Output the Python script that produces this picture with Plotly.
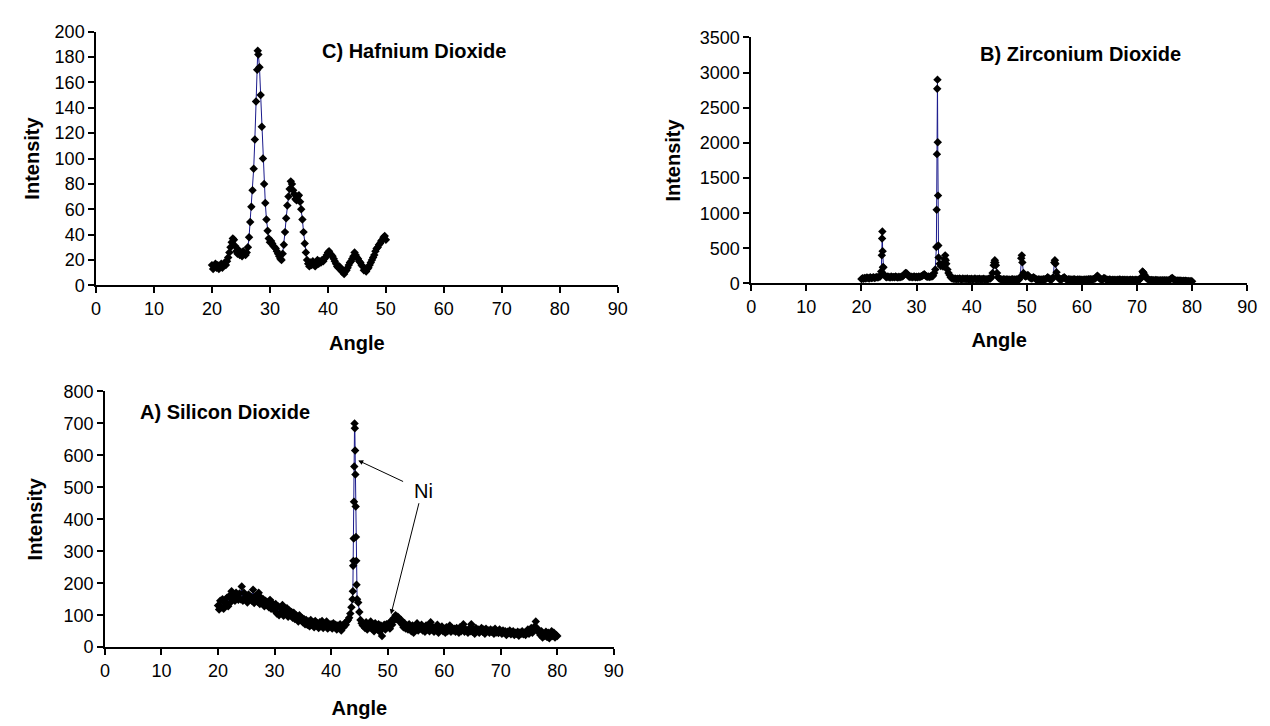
import numpy as np
import plotly.graph_objects as go

# ---------------- data ----------------
# C) Hafnium Dioxide: angle 20.0 .. 50.0, step 0.2
hf_start, hf_step = 20.0, 0.2
hf_intensity = [
    16, 13, 15, 17, 14, 16, 13, 15, 17, 14,
    16, 18, 16, 19, 22, 26, 30, 34, 37, 36,
    31, 27, 25, 28, 24, 26, 23, 27, 25, 24,
    26, 30, 38, 50, 62, 75, 92, 115, 145, 170,
    182, 172, 150, 125, 100, 80, 65, 52, 43, 37,
    34, 35, 33, 31, 30, 29, 27, 25, 23, 21,
    20, 25, 32, 42, 53, 63, 70, 76, 82, 80,
    75, 72, 68, 67, 70, 71, 66, 60, 52, 42,
    33, 26, 20, 17, 15, 18, 16, 19, 17, 15,
    18, 20, 17, 19, 18, 20, 19, 21, 22, 24,
    26, 27, 25, 24, 23, 21, 19, 17, 15, 14,
    15, 13, 11, 12, 9, 11, 12, 14, 16, 18,
    19, 21, 23, 26, 24, 22, 21, 19, 18, 16,
    15, 12, 13, 11, 13, 14, 16, 18, 20, 22,
    24, 27, 29, 30, 32, 33, 35, 36, 38, 39,
    36,
]
hf_extra_angle = [27.9]
hf_extra_intensity = [185]

# B) Zirconium Dioxide: angle 20.0 .. 80.0, step 0.2
zr_start, zr_step = 20.0, 0.2
zr_intensity = [
    62, 75, 68, 80, 72, 85, 78, 70, 88, 76,
    82, 90, 78, 86, 92, 84, 95, 100, 170, 740,
    230, 120, 95, 88, 100, 92, 86, 98, 90, 94,
    88, 100, 92, 85, 97, 90, 95, 100, 110, 130,
    150, 145, 120, 100, 92, 98, 88, 95, 100, 90,
    96, 88, 100, 92, 98, 105, 120, 130, 115, 100,
    95, 100, 92, 104, 98, 110, 150, 200, 520, 2900,
    370, 280, 250, 270, 240, 300, 400, 280, 200, 150,
    120, 90, 75, 70, 65, 72, 60, 68, 62, 70,
    64, 58, 70, 62, 66, 60, 72, 58, 64, 60,
    66, 58, 62, 70, 56, 64, 60, 68, 58, 62,
    60, 66, 56, 62, 58, 64, 70, 72, 90, 150,
    260, 330, 260, 150, 90, 70, 62, 58, 55, 60,
    56, 52, 60, 54, 58, 50, 56, 62, 54, 58,
    55, 60, 52, 58, 90, 360, 300, 150, 110, 100,
    110, 120, 100, 80, 70, 75, 90, 80, 65, 58,
    55, 60, 52, 58, 54, 60, 56, 62, 70, 90,
    75, 60, 55, 62, 90, 300, 280, 160, 100, 70,
    60, 56, 65, 80, 90, 70, 58, 54, 60, 56,
    58, 52, 56, 60, 54, 50, 56, 52, 58, 54,
    55, 50, 56, 52, 58, 54, 60, 56, 62, 58,
    60, 64, 70, 90, 110, 95, 70, 62, 58, 55,
    80, 70, 58, 54, 50, 56, 52, 48, 54, 50,
    52, 48, 54, 50, 56, 52, 48, 54, 50, 52,
    48, 52, 46, 50, 54, 48, 52, 46, 50, 54,
    50, 48, 56, 62, 90, 170, 150, 120, 90, 70,
    60, 52, 48, 50, 46, 48, 44, 50, 46, 48,
    44, 48, 42, 46, 44, 48, 42, 46, 44, 48,
    55, 70, 80, 60, 50, 44, 40, 44, 38, 42,
    40, 36, 40, 34, 38, 36, 32, 36, 30, 34,
    30,
]
zr_extra_angle = [23.7, 23.75, 23.85, 23.9, 33.65, 33.7, 33.75, 33.85, 33.9, 33.95,
                  35.1, 35.3, 44.1, 44.3, 49.1, 55.1, 71.1]
zr_extra_intensity = [400, 640, 460, 230, 1050, 1840, 2770, 2010, 1250, 540,
                      350, 330, 300, 300, 400, 330, 160]

# A) Silicon Dioxide: angle 20.0 .. 80.0, step 0.2
si_start, si_step = 20.0, 0.2
si_intensity = [
    130, 118, 145, 125, 150, 120, 140, 135, 155, 128,
    160, 140, 175, 150, 165, 145, 170, 155, 148, 168,
    150, 190, 145, 170, 155, 160, 140, 165, 150, 158,
    145, 180, 138, 160, 150, 142, 170, 135, 155, 140,
    150, 128, 145, 132, 140, 125, 148, 120, 138, 130,
    115, 135, 105, 128, 100, 125, 110, 132, 98, 120,
    105, 122, 95, 115, 100, 110, 92, 108, 88, 100,
    95, 80, 100, 85, 92, 78, 88, 72, 85, 70,
    80, 65, 85, 70, 78, 62, 82, 68, 75, 60,
    78, 65, 82, 60, 72, 68, 80, 58, 70, 65,
    72, 58, 75, 62, 70, 55, 68, 60, 72, 52,
    68, 62, 75, 70, 80, 85, 92, 105, 125, 150,
    340, 685, 345, 150, 140, 110, 85, 75, 68, 72,
    60, 78, 55, 72, 62, 80, 58, 70, 50, 75,
    65, 55, 72, 48, 68, 35, 62, 70, 55, 72,
    62, 75, 58, 80, 70, 90, 85, 100, 88, 95,
    90, 78, 85, 70, 62, 75, 58, 68, 55, 72,
    60, 50, 68, 45, 62, 55, 75, 52, 65, 58,
    70, 52, 62, 48, 68, 55, 60, 50, 78, 55,
    62, 48, 58, 52, 70, 45, 60, 55, 65, 50,
    58, 45, 62, 50, 55, 68, 48, 60, 52, 58,
    48, 60, 52, 45, 62, 50, 58, 72, 48, 55,
    52, 45, 58, 50, 72, 48, 55, 42, 60, 50,
    55, 45, 52, 60, 48, 55, 42, 58, 50, 52,
    45, 55, 48, 52, 42, 58, 46, 50, 44, 55,
    48, 42, 52, 45, 50, 38, 48, 44, 52, 40,
    46, 50, 38, 45, 42, 48, 36, 46, 42, 50,
    40, 45, 38, 48, 55, 42, 50, 60, 45, 55,
    65, 80, 60, 52, 45, 38, 50, 30, 42, 35,
    48, 32, 45, 28, 40, 50, 35, 45, 30, 38,
    35,
]
si_extra_angle = [43.85, 43.9, 43.95, 44.05, 44.1, 44.15, 44.25, 44.3, 44.35, 44.45, 44.5]
si_extra_intensity = [175, 255, 270, 455, 565, 700, 615, 540, 440, 270, 195]

x_ticks = [0, 10, 20, 30, 40, 50, 60, 70, 80, 90]


def series(start, step, vals, ex_x, ex_y):
    x = np.round(start + step * np.arange(len(vals)), 3)
    xs = np.concatenate([x, np.array(ex_x, float)])
    ys = np.concatenate([np.array(vals, float), np.array(ex_y, float)])
    order = np.argsort(xs, kind="stable")
    return xs[order], ys[order]


FONT = "Liberation Sans, Arial, sans-serif"
LINE = dict(color="#1a1a8c", width=1)
MARK = dict(symbol="diamond", size=6.5, color="black", line=dict(width=0))

fig = go.Figure()
for (s, st, v, ex, ey), xa, ya in [
    ((hf_start, hf_step, hf_intensity, hf_extra_angle, hf_extra_intensity), "x", "y"),
    ((zr_start, zr_step, zr_intensity, zr_extra_angle, zr_extra_intensity), "x2", "y2"),
    ((si_start, si_step, si_intensity, si_extra_angle, si_extra_intensity), "x3", "y3"),
]:
    xs, ys = series(s, st, v, ex, ey)
    fig.add_trace(go.Scatter(x=xs, y=ys, mode="lines+markers", line=LINE,
                             marker=MARK, xaxis=xa, yaxis=ya, showlegend=False))


def axis_style(**kw):
    d = dict(showline=True, linecolor="black", linewidth=1.5, ticks="outside",
             ticklen=6, tickwidth=1.5, tickcolor="black", showgrid=False,
             zeroline=False, tickfont=dict(family=FONT, size=18, color="black"),
             title_font=dict(family=FONT, size=20, color="black"))
    d.update(kw)
    return d


W, H = 1270, 726


def dom_x(a, b):
    return [a / W, b / W]


def dom_y(top, bottom):
    return [1 - bottom / H, 1 - top / H]


fig.update_layout(
    width=W, height=H, margin=dict(l=0, r=0, t=0, b=0),
    paper_bgcolor="white", plot_bgcolor="white",
    font=dict(family=FONT, color="black"),
    xaxis=axis_style(domain=dom_x(84, 612), range=[0, 90], tickvals=x_ticks,
                     anchor="y", title=dict(text="<b>Angle</b>", standoff=18)),
    yaxis=axis_style(domain=dom_y(14, 275), range=[0, 200], dtick=20,
                     anchor="x", title=dict(text="<b>Intensity</b>", standoff=10)),
    xaxis2=axis_style(domain=dom_x(747, 1249), range=[0, 90], tickvals=x_ticks,
                      anchor="y2", title=dict(text="<b>Angle</b>", standoff=17)),
    yaxis2=axis_style(domain=dom_y(20, 273), range=[0, 3500], dtick=500,
                      anchor="x2", title=dict(text="<b>Intensity</b>", standoff=14)),
    xaxis3=axis_style(domain=dom_x(93, 608), range=[0, 90], tickvals=x_ticks,
                      anchor="y3", title=dict(text="<b>Angle</b>", standoff=21)),
    yaxis3=axis_style(domain=dom_y(384, 647), range=[0, 800], dtick=100,
                      anchor="x3", title=dict(text="<b>Intensity</b>", standoff=16)),
)

bold = dict(family=FONT, size=20, color="black")
fig.add_annotation(x=38.7, y=185, xref="x", yref="y", text="<b>C) Hafnium Dioxide</b>",
                   showarrow=False, xanchor="left", font=bold)
fig.add_annotation(x=41.2, y=3270, xref="x2", yref="y2", text="<b>B) Zirconium Dioxide</b>",
                   showarrow=False, xanchor="left", font=bold)
fig.add_annotation(x=5.9, y=737, xref="x3", yref="y3", text="<b>A) Silicon Dioxide</b>",
                   showarrow=False, xanchor="left", font=bold)
fig.add_annotation(x=56.3, y=487, xref="x3", yref="y3", text="Ni", showarrow=False,
                   font=dict(family=FONT, size=20, color="black"))
for hx, hy, tx, ty in [(44.8, 584, 53.0, 516), (50.6, 103, 55.6, 455)]:
    fig.add_annotation(x=hx, y=hy, xref="x3", yref="y3", ax=tx, ay=ty,
                       axref="x3", ayref="y3", text="", showarrow=True,
                       arrowhead=2, arrowsize=1, arrowwidth=1, arrowcolor="black")

fig.write_html("out.html")
